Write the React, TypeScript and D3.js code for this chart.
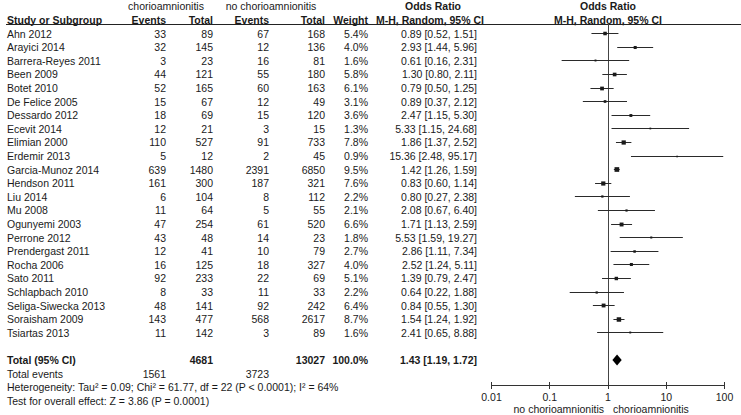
import React from "react";
import * as d3 from "d3";

const studies = ["Ahn 2012","Arayici 2014","Barrera-Reyes 2011","Been 2009","Botet 2010","De Felice 2005","Dessardo 2012","Ecevit 2014","Elimian 2000","Erdemir 2013","Garcia-Munoz 2014","Hendson 2011","Liu 2014","Mu 2008","Ogunyemi 2003","Perrone 2012","Prendergast 2011","Rocha 2006","Sato 2011","Schlapbach 2010","Seliga-Siwecka 2013","Soraisham 2009","Tsiartas 2013"];
const eventsChorio = [33,32,3,44,52,15,18,12,110,5,639,161,6,11,47,43,12,16,92,8,48,143,11];
const totalChorio = [89,145,23,121,165,67,69,21,527,12,1480,300,104,64,254,48,41,125,233,33,141,477,142];
const eventsNo = [67,12,16,55,60,12,15,3,91,2,2391,187,8,5,61,14,10,18,22,11,92,568,3];
const totalNo = [168,136,81,180,163,49,120,15,733,45,6850,321,112,55,520,23,79,327,69,33,242,2617,89];
const weights = [5.4,4.0,1.6,5.8,6.1,3.1,3.6,1.3,7.8,0.9,9.5,7.6,2.2,2.1,6.6,1.8,2.7,4.0,5.1,2.2,6.4,8.7,1.6];
const oddsRatio = [0.89,2.93,0.61,1.30,0.79,0.89,2.47,5.33,1.86,15.36,1.42,0.83,0.80,2.08,1.71,5.53,2.86,2.52,1.39,0.64,0.84,1.54,2.41];
const ciLow = [0.52,1.44,0.16,0.80,0.50,0.37,1.15,1.15,1.37,2.48,1.26,0.60,0.27,0.67,1.13,1.59,1.11,1.24,0.79,0.22,0.55,1.24,0.65];
const ciHigh = [1.51,5.96,2.31,2.11,1.25,2.12,5.30,24.68,2.52,95.17,1.59,1.14,2.38,6.40,2.59,19.27,7.34,5.11,2.47,1.88,1.30,1.92,8.88];
const pooled = { or: 1.43, lo: 1.19, hi: 1.72 };
const totals = { chorio: 4681, no: 13027, weight: "100.0%", eventsChorio: 1561, eventsNo: 3723 };
const axisTicks = [0.01, 0.1, 1, 10, 100];
const axisTickLabels = ["0.01", "0.1", "1", "10", "100"];

const FONT = "'Liberation Sans', Arial, sans-serif";
const FS = 10.5;
const lineY = (i: number) => 6.5 + i * 13.6;
const base = (i: number) => lineY(i) + 3.8;

const colStudy = 7;
const colEv1 = 166;
const colTot1 = 213;
const colEv2 = 269;
const colTot2 = 325;
const colW = 368;
const colOR = 477;

const x = d3.scaleLog().domain([0.01, 100]).range([491.5, 724.5]);
const textColor = "#1a1a1a";
const crisp = (v: number) => Math.floor(v) + 0.5;

function T(props: any) {
  const { children, ...rest } = props;
  return (
    <text fontFamily={FONT} fontSize={FS} fill={textColor} {...rest}>
      {children}
    </text>
  );
}

const fmt = (v: number) => v.toFixed(2);

export default function App() {
  const axisY = 385;
  const sq = d3.scaleSqrt().domain([0, 10]).range([0, 4.8]);
  const x1 = crisp(x(1));
  return (
    <svg width={741} height={415} style={{ position: "absolute", left: 0, top: 0, background: "#fff" }}>
      {/* header row 0 */}
      <T x={166} y={base(0)} textAnchor="middle">chorioamnionitis</T>
      <T x={271} y={base(0)} textAnchor="middle">no chorioamnionitis</T>
      <T x={433} y={base(0)} textAnchor="middle" fontWeight="bold">Odds Ratio</T>
      <T x={x(1)} y={base(0)} textAnchor="middle" fontWeight="bold">Odds Ratio</T>
      {/* header row 1 */}
      <T x={colStudy} y={base(1)} fontWeight="bold">Study or Subgroup</T>
      <T x={colEv1} y={base(1)} textAnchor="end" fontWeight="bold">Events</T>
      <T x={colTot1} y={base(1)} textAnchor="end" fontWeight="bold">Total</T>
      <T x={colEv2} y={base(1)} textAnchor="end" fontWeight="bold">Events</T>
      <T x={colTot2} y={base(1)} textAnchor="end" fontWeight="bold">Total</T>
      <T x={colW} y={base(1)} textAnchor="end" fontWeight="bold">Weight</T>
      <T x={430} y={base(1)} textAnchor="middle" fontWeight="bold">M-H, Random, 95% CI</T>
      <T x={x(1)} y={base(1)} textAnchor="middle" fontWeight="bold">M-H, Random, 95% CI</T>
      <line x1={6} x2={741} y1={24.5} y2={24.5} stroke="#222" strokeWidth={1} />

      {/* vertical line of no effect */}
      <line x1={x1} x2={x1} y1={24} y2={axisY} stroke="#444" strokeWidth={1} />

      {studies.map((s, k) => {
        const i = k + 2;
        const cy = crisp(lineY(i));
        const side = Math.max(1.6, sq(weights[k]));
        return (
          <g key={s}>
            <T x={colStudy} y={base(i)}>{s}</T>
            <T x={colEv1} y={base(i)} textAnchor="end">{eventsChorio[k]}</T>
            <T x={colTot1} y={base(i)} textAnchor="end">{totalChorio[k]}</T>
            <T x={colEv2} y={base(i)} textAnchor="end">{eventsNo[k]}</T>
            <T x={colTot2} y={base(i)} textAnchor="end">{totalNo[k]}</T>
            <T x={colW} y={base(i)} textAnchor="end">{weights[k].toFixed(1)}%</T>
            <T x={colOR} y={base(i)} textAnchor="end">{`${fmt(oddsRatio[k])} [${fmt(ciLow[k])}, ${fmt(ciHigh[k])}]`}</T>
            <line x1={x(ciLow[k])} x2={x(ciHigh[k])} y1={cy} y2={cy} stroke="#2a2a2a" strokeWidth={1} />
            <rect x={x(oddsRatio[k]) - side / 2} y={cy - side / 2} width={side} height={side} fill="#1a1a1a" />
          </g>
        );
      })}

      {/* totals */}
      <T x={colStudy} y={base(26)} fontWeight="bold">Total (95% CI)</T>
      <T x={colTot1} y={base(26)} textAnchor="end" fontWeight="bold">{totals.chorio}</T>
      <T x={colTot2} y={base(26)} textAnchor="end" fontWeight="bold">{totals.no}</T>
      <T x={colW} y={base(26)} textAnchor="end" fontWeight="bold">{totals.weight}</T>
      <T x={colOR} y={base(26)} textAnchor="end" fontWeight="bold">{`${fmt(pooled.or)} [${fmt(pooled.lo)}, ${fmt(pooled.hi)}]`}</T>
      <polygon
        points={[
          [x(pooled.lo), lineY(26)],
          [x(pooled.or), lineY(26) - 5.5],
          [x(pooled.hi), lineY(26)],
          [x(pooled.or), lineY(26) + 5.5],
        ].map((p) => p.join(",")).join(" ")}
        fill="#000"
      />
      <T x={colStudy} y={base(27)}>Total events</T>
      <T x={colEv1} y={base(27)} textAnchor="end">{totals.eventsChorio}</T>
      <T x={colEv2} y={base(27)} textAnchor="end">{totals.eventsNo}</T>
      <T x={colStudy} y={base(28)}>Heterogeneity: Tau² = 0.09; Chi² = 61.77, df = 22 (P &lt; 0.0001); I² = 64%</T>
      <T x={colStudy} y={base(29)}>Test for overall effect: Z = 3.86 (P = 0.0001)</T>

      {/* axis */}
      <line x1={x(0.01)} x2={x(100)} y1={axisY + 0.5} y2={axisY + 0.5} stroke="#333" strokeWidth={1} />
      {axisTicks.map((t, j) => (
        <g key={t}>
          <line x1={crisp(x(t))} x2={crisp(x(t))} y1={axisY - 3} y2={axisY + 4} stroke="#333" strokeWidth={1} />
          <T x={x(t)} y={axisY + 15.5} textAnchor="middle">{axisTickLabels[j]}</T>
        </g>
      ))}
      <T x={x(1) - 4} y={axisY + 28} textAnchor="end">no chorioamnionitis</T>
      <T x={x(1) + 5} y={axisY + 28} textAnchor="start">chorioamnionitis</T>
    </svg>
  );
}
